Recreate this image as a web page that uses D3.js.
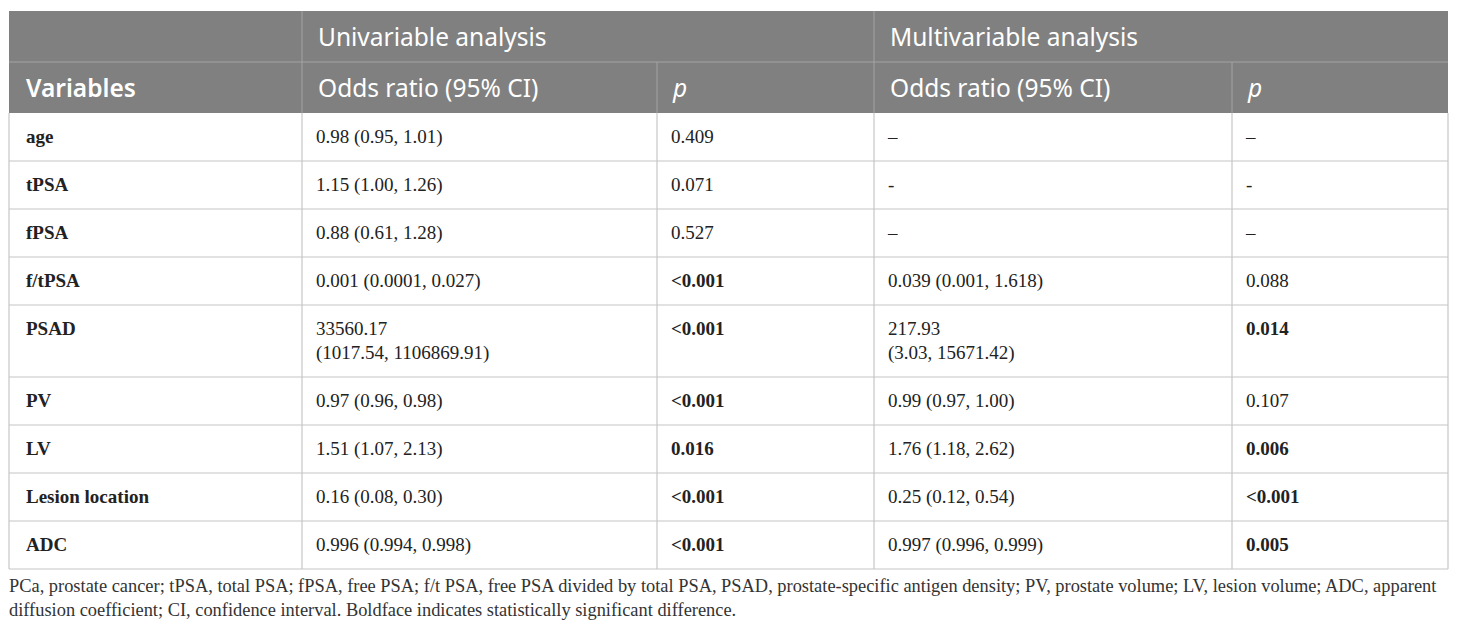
<!doctype html>
<html>
<head>
<meta charset="utf-8">
<title>Logistic regression table</title>
<script src="https://cdn.jsdelivr.net/npm/d3@7"></script>
<style>
    body { margin: 0; background: #fff; }
    .hd { font-family: "Noto Sans", "Open Sans", sans-serif; font-size: 24.5px; fill: #fff; }
    .cell { font-family: "Liberation Serif", "Times New Roman", serif; font-size: 19px; fill: #222; }
    .note { font-family: "Liberation Serif", "Times New Roman", serif; font-size: 18.4px; fill: #333; }
</style>
</head>
<body>
<script>
// table contents
var variables = ["age", "tPSA", "fPSA", "f/tPSA", "PSAD", "PV", "LV", "Lesion location", "ADC"];
var uniOR = ["0.98 (0.95, 1.01)", "1.15 (1.00, 1.26)", "0.88 (0.61, 1.28)", "0.001 (0.0001, 0.027)",
    "33560.17\n(1017.54, 1106869.91)", "0.97 (0.96, 0.98)", "1.51 (1.07, 2.13)", "0.16 (0.08, 0.30)", "0.996 (0.994, 0.998)"];
var uniP = ["0.409", "0.071", "0.527", "<0.001", "<0.001", "<0.001", "0.016", "<0.001", "<0.001"];
var uniSig = [false, false, false, true, true, true, true, true, true];
var multiOR = ["\u2013", "-", "\u2013", "0.039 (0.001, 1.618)", "217.93\n(3.03, 15671.42)",
    "0.99 (0.97, 1.00)", "1.76 (1.18, 2.62)", "0.25 (0.12, 0.54)", "0.997 (0.996, 0.999)"];
var multiP = ["\u2013", "-", "\u2013", "0.088", "0.014", "0.107", "0.006", "<0.001", "0.005"];
var multiSig = [false, false, false, false, true, false, true, true, true];
var groupLabels = ["Univariable analysis", "Multivariable analysis"];
var colLabels = ["Variables", "Odds ratio (95% CI)", "p", "Odds ratio (95% CI)", "p"];
var noteLines = [
    "PCa, prostate cancer; tPSA, total PSA; fPSA, free PSA; f/t PSA, free PSA divided by total PSA, PSAD, prostate-specific antigen density; PV, prostate volume; LV, lesion volume; ADC, apparent",
    "diffusion coefficient; CI, confidence interval. Boldface indicates statistically significant difference."
];

var W = 1460, H = 632;
var left = 9, right = 1448, tableTop = 11;
var headH = 51, lineH = 24, rowPad = 24;
var colEdges = [0, 293, 648, 865, 1223, 1439]; // relative to left
var x = d3.scaleOrdinal().domain(d3.range(6)).range(colEdges.map(function(d) { return left + d; }));

var rows = variables.map(function(v, i) {
    return {
        cells: [
            { t: v, bold: true },
            { t: uniOR[i] },
            { t: uniP[i], bold: uniSig[i] },
            { t: multiOR[i] },
            { t: multiP[i], bold: multiSig[i] }
        ]
    };
});
rows.forEach(function(r) {
    r.lines = d3.max(r.cells, function(c) { return c.t.split("\n").length; });
    r.h = rowPad + r.lines * lineH;
});
var bodyTop = tableTop + 2 * headH;
var offsets = [0].concat(Array.from(d3.cumsum(rows, function(r) { return r.h; })));
var y = d3.scaleLinear().domain([0, 1]).range([bodyTop, bodyTop + 1]);
var bodyBottom = y(offsets[offsets.length - 1]);

var svg = d3.select("body").append("svg")
    .attr("width", W)
    .attr("height", H);

// header background
svg.append("rect")
    .attr("x", left).attr("y", tableTop)
    .attr("width", right - left).attr("height", 2 * headH)
    .attr("fill", "#808080");

var hLines = svg.append("g").attr("stroke", "#a3a3a3").attr("stroke-width", 1);
hLines.append("line")
    .attr("x1", left).attr("x2", right)
    .attr("y1", tableTop + headH).attr("y2", tableTop + headH);
[1, 3].forEach(function(c) {
    hLines.append("line")
        .attr("x1", x(c)).attr("x2", x(c))
        .attr("y1", tableTop).attr("y2", tableTop + 2 * headH);
});
[2, 4].forEach(function(c) {
    hLines.append("line")
        .attr("x1", x(c)).attr("x2", x(c))
        .attr("y1", tableTop + headH).attr("y2", tableTop + 2 * headH);
});

svg.selectAll(".grp")
    .data(groupLabels)
    .enter().append("text")
    .attr("class", "hd")
    .attr("x", function(d, i) { return x(1 + 2 * i) + 16; })
    .attr("y", tableTop + headH / 2 + 9)
    .text(function(d) { return d; });

svg.selectAll(".col")
    .data(colLabels)
    .enter().append("text")
    .attr("class", "hd")
    .attr("x", function(d, i) { return x(i) + (i === 0 ? 17 : 16); })
    .attr("y", tableTop + headH + headH / 2 + 9)
    .attr("font-weight", function(d, i) { return i === 0 ? 600 : null; })
    .attr("font-style", function(d) { return d === "p" ? "italic" : null; })
    .text(function(d) { return d; });

// body grid
var grid = svg.append("g").attr("stroke", "#c6c6c6").attr("stroke-width", 1.2).attr("fill", "none");
offsets.slice(1).forEach(function(o) {
    grid.append("line")
        .attr("x1", left).attr("x2", right)
        .attr("y1", y(o)).attr("y2", y(o));
});
d3.range(6).forEach(function(c) {
    grid.append("line")
        .attr("x1", x(c)).attr("x2", x(c))
        .attr("y1", bodyTop).attr("y2", bodyBottom);
});

// body cells
var rowG = svg.selectAll(".row")
    .data(rows)
    .enter().append("g")
    .attr("transform", function(d, i) { return "translate(0," + y(offsets[i]) + ")"; });

rowG.each(function(r) {
    var g = d3.select(this);
    r.cells.forEach(function(c, ci) {
        var t = g.append("text")
            .attr("class", "cell")
            .attr("y", rowPad / 2 + lineH / 2 + 6)
            .attr("font-weight", c.bold ? "bold" : null);
        c.t.split("\n").forEach(function(s, li) {
            t.append("tspan")
                .attr("x", x(ci) + (ci === 0 ? 17 : 14))
                .attr("dy", li === 0 ? 0 : lineH)
                .text(s);
        });
    });
});

// footnote
svg.selectAll(".note")
    .data(noteLines)
    .enter().append("text")
    .attr("class", "note")
    .attr("x", left)
    .attr("y", function(d, i) { return bodyBottom + 23 + i * 24; })
    .text(function(d) { return d; });
</script>
</body>
</html>
